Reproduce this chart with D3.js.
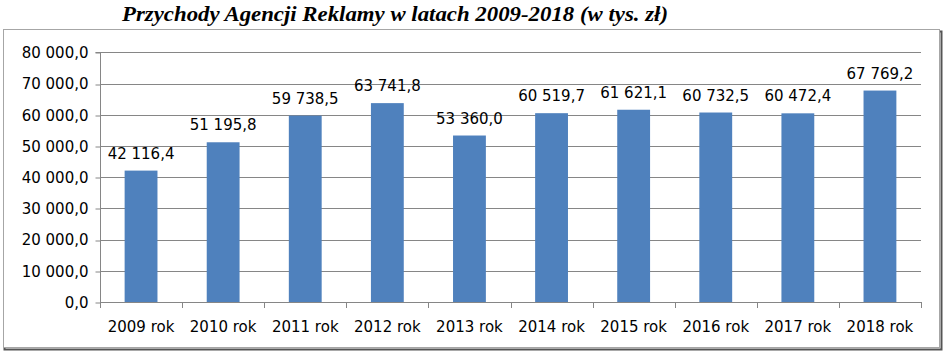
<!DOCTYPE html>
<html><head><meta charset="utf-8">
<script src="https://cdn.jsdelivr.net/npm/d3@7"></script>
<style>body{margin:0;background:#fff}</style>
</head><body><svg id="c" width="946" height="354"></svg>
<script>
const categories = ["2009 rok","2010 rok","2011 rok","2012 rok","2013 rok","2014 rok","2015 rok","2016 rok","2017 rok","2018 rok"];
const values = [42116.4, 51195.8, 59738.5, 63741.8, 53360.0, 60519.7, 61621.1, 60732.5, 60472.4, 67769.2];
const yTicks = [0,10000,20000,30000,40000,50000,60000,70000,80000];
const title = "Przychody Agencji Reklamy w latach 2009-2018 (w tys. zł)";

const loc = d3.formatLocale({decimal:",", thousands:"\u00a0", grouping:[3], currency:["",""]});
const fmt = loc.format(",.1f");

const svg = d3.select("#c");
const L = 100, R = 921, T = 52.4, B = 302;
const font = "DejaVu Sans, sans-serif";

// outer frame with shadow
svg.append("rect").attr("x",4.5).attr("y",31.5).attr("width",937).attr("height",318).attr("fill","none").attr("stroke","#555").attr("stroke-width",2);
svg.append("rect").attr("x",3.5).attr("y",29.5).attr("width",936).attr("height",318).attr("fill","#fff").attr("stroke","#a6a6a6").attr("stroke-width",1);

svg.append("text").attr("x",122).attr("y",21).attr("textLength",546).attr("lengthAdjust","spacingAndGlyphs")
  .attr("font-family","Liberation Serif, Times New Roman, serif").attr("font-weight","bold").attr("font-style","italic")
  .attr("font-size",21).attr("fill","#000").text(title);

const x = d3.scaleBand().domain(categories).range([L,R]).paddingInner(0.6).paddingOuter(0.3);
const y = d3.scaleLinear().domain([0,80000]).range([B,T]);

const grid = "#868686";
// gridlines
svg.append("g").selectAll("line").data(yTicks.filter(d=>d>0)).join("line")
  .attr("x1",L).attr("x2",R).attr("y1",d=>Math.round(y(d))+0.5).attr("y2",d=>Math.round(y(d))+0.5)
  .attr("stroke",grid).attr("stroke-width",1);

// y axis
const yAxis = d3.axisLeft(y).tickValues(yTicks).tickSize(5).tickPadding(7).tickFormat(fmt);
const gy = svg.append("g").attr("transform",`translate(${L+0.5},0.5)`).call(yAxis);
gy.select(".domain").attr("stroke",grid).attr("d",`M-5,${Math.round(y(80000))}H0V${B}`);
gy.selectAll(".tick line").attr("stroke",grid).attr("transform",d=>`translate(0,${Math.round(y(d))-y(d)})`);
gy.selectAll(".tick text").attr("font-family",font).attr("font-size",15).attr("fill","#000");

// bars
svg.append("g").selectAll("rect").data(values).join("rect")
  .attr("x",(d,i)=>x(categories[i])).attr("width",x.bandwidth())
  .attr("y",d=>y(d)).attr("height",d=>B-y(d)).attr("fill","#4f81bd");

// x axis
const step = x.step();
const bounds = d3.range(categories.length+1).map(i=>L+i*step);
svg.append("line").attr("x1",L).attr("x2",R).attr("y1",B+0.5).attr("y2",B+0.5).attr("stroke",grid);
svg.append("g").selectAll("line").data(bounds).join("line")
  .attr("x1",d=>Math.round(d)+0.5).attr("x2",d=>Math.round(d)+0.5).attr("y1",B).attr("y2",B+6).attr("stroke",grid);
svg.append("g").selectAll("text").data(categories).join("text")
  .attr("x",d=>x(d)+x.bandwidth()/2).attr("y",332).attr("text-anchor","middle")
  .attr("font-family",font).attr("font-size",15).attr("fill","#000").text(d=>d);

// data labels
svg.append("g").selectAll("text").data(values).join("text")
  .attr("x",(d,i)=>x(categories[i])+x.bandwidth()/2).attr("y",d=>y(d)-12).attr("text-anchor","middle")
  .attr("font-family",font).attr("font-size",15).attr("fill","#000").text(d=>fmt(d));
</script></body></html>
